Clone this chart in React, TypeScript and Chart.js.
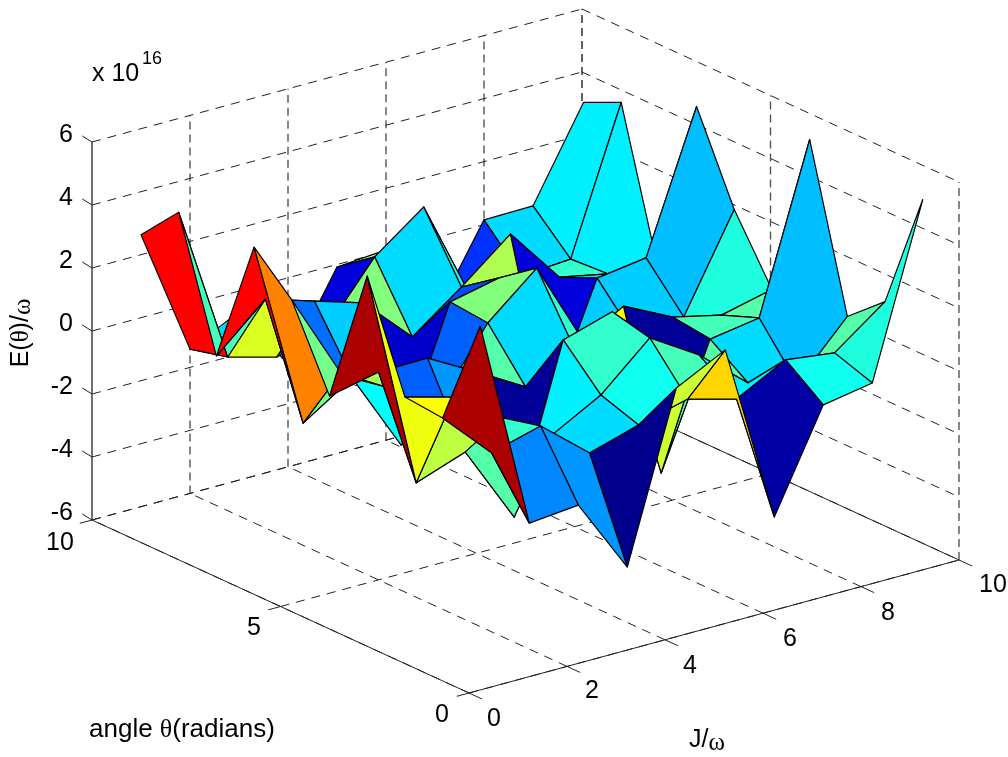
import React, { useEffect, useRef } from "react";
import { Chart, registerables } from "chart.js";

Chart.register(...registerables);

// Grid of the surface
const gridJ = [1, 2, 3, 4, 5, 6, 7, 8, 9, 10.03];
const gridTheta = [1, 2, 3, 4, 5, 6, 7, 8, 9, 10];

// Surface height E(theta)/omega in units of 1e16; one row per theta, one column per J
const heightTheta1 = [4.68, -2.0, -1.85, -4.24, 1.02, 1.81, -3.92, -0.78, -0.51, 4.88];
const heightTheta2 = [1.21, -0.32, 0.11, -1.17, -0.7, -0.3, -0.72, 0.1, -0.1, 1.09];
const heightTheta3 = [1.33, 0.9, -0.18, -1.15, -0.3, 1.09, 0.13, -1.18, -1.61, 0.07];
const heightTheta4 = [4.62, -2.37, -1.81, -4.3, 0.9, 1.37, -4.17, -0.34, -0.09, 5.14];
const heightTheta5 = [0.26, 0.6, 0.62, -0.24, -1.14, -0.36, 0.58, -0.19, -0.55, -0.17];
const heightTheta6 = [2.76, 0.02, -0.88, -1.81, 0.34, 1.66, -1.2, -1.37, -1.16, 1.82];
const heightTheta7 = [3.89, -2.12, -1.11, -3.66, 0.46, 0.8, -3.85, -0.05, 0.17, 4.54];
const heightTheta8 = [-0.12, 1.27, 0.78, 0.3, -1.2, -0.04, 1.22, -0.57, -0.89, -1.25];
const heightTheta9 = [3.9, -1.12, -1.54, -1.11, 0.79, 1.95, -1.42, -1.08, -0.97, 3.57];
const heightTheta10 = [2.63, -1.42, -0.66, -2.74, -0.08, 0.04, -2.48, 0.15, 0.17, 3.02];
const heights = [
  heightTheta1, heightTheta2, heightTheta3, heightTheta4, heightTheta5,
  heightTheta6, heightTheta7, heightTheta8, heightTheta9, heightTheta10,
];

// Colour data of each face, as a 0..1 position on the jet colormap
const levelBand1 = [0.958, 0.2575, 0.272, 0.0125, 0.576, 0.665, 0.037, 0.39, 0.405];
const levelBand2 = [0.625, 0.424, 0.3, 0.341, 0.39, 0.444, 0.36, 0.36, 0.458];
const levelBand3 = [0.61, 0.561, 0.458, 0.36, 0.424, 0.576, 0.458, 0.341, 0.311];
const levelBand4 = [0.958, 0.218, 0.272, 0.022, 0.06, 0.625, 0.022, 0.444, 0.458];
const levelBand5 = [0.4875, 0.537, 0.3, 0.458, 0.341, 0.424, 0.25, 0.326, 0.405];
const levelBand6 = [0.7475, 0.4875, 0.375, 0.218, 0.5025, 0.09, 0.326, 0.326, 0.311];
const levelBand7 = [0.875, 0.233, 0.326, 0.076, 0.2, 0.5465, 0.09, 0.341, 0.35];
const levelBand8 = [0.444, 0.591, 0.25, 0.5025, 0.341, 0.4, 0.34, 0.424, 0.36];
const levelBand9 = [0.875, 0.341, 0.3, 0.09, 0.537, 0.4, 0.174, 0.341, 0.36];
const faceLevels = [
  levelBand1, levelBand2, levelBand3, levelBand4, levelBand5,
  levelBand6, levelBand7, levelBand8, levelBand9,
];

// Axes
const ticksJ = [0, 2, 4, 6, 8, 10];
const ticksTheta = [0, 5, 10];
const ticksZ = [-6, -4, -2, 0, 2, 4, 6];

const WIDTH = 1008;
const HEIGHT = 757;

// Oblique view: (J, theta, z) to the flat screen coordinates of the two chart scales
function view(J: number, theta: number, z: number) {
  return {
    x: 469 + 49 * J - 37.7 * theta,
    y: 693 - 13.3 * J - 17.3 * theta - 31.5 * (z + 6),
  };
}

function jet(v: number) {
  const c = (t: number) => Math.round(255 * Math.max(0, Math.min(1, 1.5 - Math.abs(t))));
  return `rgb(${c(4 * v - 3)},${c(4 * v - 2)},${c(4 * v - 1)})`;
}

function gridLine(data: { x: number; y: number }[], dash: number[], color = "#222", width = 1) {
  return {
    data,
    borderColor: color,
    borderWidth: width,
    borderDash: dash,
    fill: false,
    pointRadius: 0,
    tension: 0,
  };
}

function buildDatasets() {
  const sets: any[] = [];
  // first dataset is painted last: nearest faces come first
  for (let t = 0; t < faceLevels.length; t++) {
    for (let j = 0; j < faceLevels[t].length; j++) {
      const p = [
        view(gridJ[j], gridTheta[t], heights[t][j]),
        view(gridJ[j + 1], gridTheta[t], heights[t][j + 1]),
        view(gridJ[j + 1], gridTheta[t + 1], heights[t + 1][j + 1]),
        view(gridJ[j], gridTheta[t + 1], heights[t + 1][j]),
      ];
      sets.push({
        data: [...p, p[0]],
        borderColor: "#000",
        borderWidth: 1.2,
        borderJoinStyle: "round",
        backgroundColor: jet(faceLevels[t][j]),
        fill: "shape",
        pointRadius: 0,
        tension: 0,
      });
    }
  }
  const diag = [9, 7];
  const vert = [8, 5];
  // solid axes and tick marks
  sets.push(gridLine([view(0, 0, -6), view(10, 0, -6)], []));
  sets.push(gridLine([view(0, 0, -6), view(0, 10, -6)], []));
  sets.push(gridLine([view(0, 10, -6), view(0, 10, 6)], [], "#333", 1.4));
  ticksJ.forEach((J) => sets.push(gridLine([view(J, 0, -6), view(J, -0.35, -6)], [])));
  ticksTheta.forEach((th) => sets.push(gridLine([view(0, th, -6), view(-0.25, th, -6)], [])));
  ticksZ.forEach((z) => sets.push(gridLine([view(0, 10, z), view(0, 10.26, z + 0.05)], [])));
  // far floor edge reads as solid
  sets.push(gridLine([view(10, 0, -6), view(10, 10, -6)], [], "#222", 1));
  // floor grid
  ticksJ.slice(0, -1).forEach((J) => sets.push(gridLine([view(J, 0, -6), view(J, 10, -6)], diag)));
  ticksTheta.forEach((th) => sets.push(gridLine([view(0, th, -6), view(10, th, -6)], diag)));
  // back walls
  ticksZ.forEach((z) => {
    sets.push(gridLine([view(0, 10, z), view(10, 10, z)], diag));
    sets.push(gridLine([view(10, 10, z), view(10, 0, z)], diag));
  });
  ticksJ.slice(1).forEach((J) =>
    sets.push(gridLine([view(J, 10, -6), view(J, 10, 6)], vert, "#555", 1.4))
  );
  ticksTheta.forEach((th) =>
    sets.push(gridLine([view(10, th, -6), view(10, th, 6)], vert, "#555", 1.4))
  );
  return sets;
}

const labelsPlugin = {
  id: "axisText",
  afterDraw(chart: any) {
    const ctx = chart.ctx;
    const sans = '"Liberation Sans", Arial, sans-serif';
    const serif = '"Liberation Serif", serif';
    const SIZE = 25;
    const text = (s: string, x: number, y: number, size = SIZE, align: CanvasTextAlign = "center", font = sans) => {
      ctx.font = `${size}px ${font}`;
      ctx.textAlign = align;
      ctx.textBaseline = "middle";
      ctx.fillStyle = "#000";
      ctx.fillText(s, x, y);
    };
    const width = (s: string, size: number, font: string) => {
      ctx.font = `${size}px ${font}`;
      return ctx.measureText(s).width;
    };
    ctx.save();
    const zLabelY = [513, 450, 387, 324, 261, 198, 135];
    ticksZ.forEach((z, i) => text(String(z), 73, zLabelY[i], SIZE, "right"));
    text("10", 60, 543);
    text("5", 254, 628);
    text("0", 442, 715);
    const jLabels: [number, number][] = [[494, 719], [592, 691], [690, 666], [790, 639], [888, 613], [993, 585]];
    ticksJ.forEach((J, i) => text(String(J), jLabels[i][0], jLabels[i][1]));
    text("x 10", 92, 74, SIZE, "left");
    text("16", 142, 59, 18, "left");
    // axis titles
    const A = 26;
    let x = 89;
    text("angle ", x, 730, A, "left");
    x += width("angle ", A, sans);
    text("θ", x, 730, A, "left", serif);
    x += width("θ", A, serif);
    text("(radians)", x, 730, A, "left");
    x = 689;
    text("J/", x, 740, SIZE, "left");
    x += width("J/", SIZE, sans);
    text("ω", x, 743, SIZE, "left", serif);
    ctx.translate(21, 333);
    ctx.rotate(-Math.PI / 2);
    const wa = width("E(", SIZE, sans);
    const wb = width(")/", SIZE, sans);
    const wt = width("θ", SIZE, serif);
    const wo = width("ω", SIZE, serif);
    let cur = -(wa + wt + wb + wo) / 2;
    text("E(", cur, 0, SIZE, "left");
    cur += wa;
    text("θ", cur, 0, SIZE, "left", serif);
    cur += wt;
    text(")/", cur, 0, SIZE, "left");
    cur += wb;
    text("ω", cur, 2, SIZE, "left", serif);
    ctx.restore();
  },
};

export default function App() {
  const ref = useRef<HTMLCanvasElement>(null);
  useEffect(() => {
    document.body.style.margin = "0";
    document.body.style.background = "#fff";
    const chart = new Chart(ref.current!, {
      type: "line",
      data: { datasets: buildDatasets() },
      options: {
        responsive: false,
        animation: false,
        events: [],
        layout: { padding: 0 },
        plugins: { legend: { display: false }, tooltip: { enabled: false }, title: { display: false } },
        scales: {
          x: { type: "linear", min: 0, max: WIDTH, display: false },
          y: { type: "linear", min: 0, max: HEIGHT, reverse: true, display: false },
        },
      },
      plugins: [labelsPlugin],
    } as any);
    return () => chart.destroy();
  }, []);
  return <canvas ref={ref} width={WIDTH} height={HEIGHT} style={{ display: "block" }} />;
}
